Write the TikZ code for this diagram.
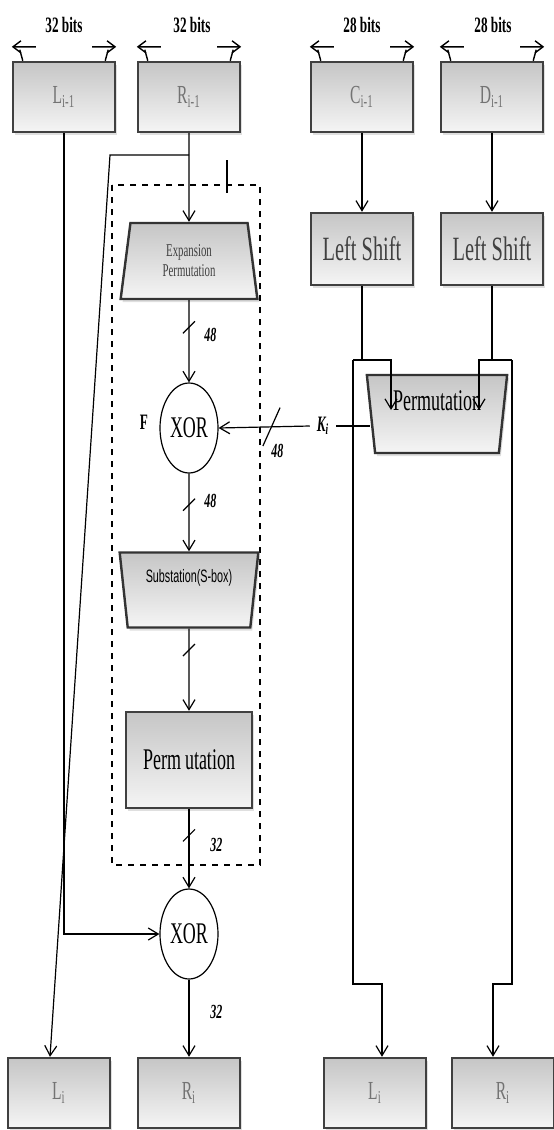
\documentclass[tikz,border=0pt]{standalone}
\usepackage{fontspec}
\setmainfont{Liberation Serif}[FakeStretch=0.6]
\setsansfont{Liberation Sans}[FakeStretch=0.6]
\usetikzlibrary{shapes.geometric,arrows.meta,positioning,calc,shadows,decorations.markings}
\tikzset{
  % Register / block box: shaded grey, dark border
  regbox/.style={draw=black!75, rectangle, line width=1.2pt, minimum width=51pt, minimum height=35pt,
                 top color=gray!45, bottom color=gray!8, inner sep=1pt,
                 drop shadow={opacity=0.25, shadow xshift=1pt, shadow yshift=-1.5pt},
                 font=\fontsize{13}{14}\selectfont, text=black!55},
  shiftbox/.style={regbox, minimum height=36pt, font=\fontsize{17}{18}\selectfont, text=black!75},
  permbox/.style={regbox, minimum width=63pt, minimum height=48pt, font=\fontsize{15}{16}\selectfont, text=black},
  % Trapezoid blocks
  trapbox/.style={trapezium, trapezium stretches=true, draw=black!80, line width=1.2pt, inner sep=1pt,
                  top color=gray!45, bottom color=gray!8,
                  drop shadow={opacity=0.25, shadow xshift=1pt, shadow yshift=-1.5pt}},
  xorgate/.style={ellipse, draw, line width=0.6pt, fill=white, minimum width=29pt, minimum height=45pt,
                  inner sep=0pt, font=\fontsize{15}{16}\selectfont},
  % Labels
  bitlbl/.style={font=\bfseries\fontsize{11}{12}\selectfont},
  buslbl/.style={font=\bfseries\itshape\fontsize{10}{11}\selectfont},
  % Arrows
  flowarr/.style={-{Straight Barb[length=5pt,width=6pt]}, line width=0.6pt},
  plainline/.style={line width=0.6pt},
  widtharr/.style={-{Straight Barb[length=4pt,width=6pt]}, line width=0.7pt},
  busmark/.style={postaction={decorate}, decoration={markings,
                  mark=at position #1 with {\draw[-, line width=0.6pt] (-3pt,3pt) -- (3pt,-3pt);}}},
  keymark/.style={postaction={decorate}, decoration={markings,
                  mark=at position #1 with {\draw[-, line width=0.6pt] (-4.5pt,-9.5pt) -- (4.5pt,9.5pt);}}},
  % Round function enclosure
  fbox/.style={draw, dashed, line width=0.8pt}
}

\begin{document}
\begin{tikzpicture}[x=0.5pt, y=-0.5pt]
\useasboundingbox (0,0) rectangle (553,1130);

% ============== Round function F enclosure ==============
\draw[fbox] (112,185) rectangle (260,865);
\draw[line width=1.2pt] (227,160) -- (227,193);
\node[font=\bfseries\fontsize{11}{12}\selectfont] (flabel) at (144,422) {F};

% ============== Top: data halves and key halves ==============
\node[regbox] (Lprev) at (64,97) {L\textsubscript{i-1}};
\node[regbox] (Rprev) at (189,97) {R\textsubscript{i-1}};
\node[regbox] (Cprev) at (362,97) {C\textsubscript{i-1}};
\node[regbox] (Dprev) at (492,97) {D\textsubscript{i-1}};

\node[bitlbl] (Lbits) at (64,25) {32 bits};
\node[bitlbl] (Rbits) at (192,25) {32 bits};
\node[bitlbl] (Cbits) at (362,25) {28 bits};
\node[bitlbl] (Dbits) at (493,25) {28 bits};

% width arrows over each register
\draw[widtharr] ($(Lprev.north west)+(8,-11)$) -- ($(Lprev.north west)+(11,0)$) ($(Lprev.north west)+(24,-14)$) -- ($(Lprev.north west)+(0,-14)$);
\draw[widtharr] ($(Lprev.north east)+(-8,-11)$) -- ($(Lprev.north east)+(-11,0)$) ($(Lprev.north east)+(-24,-14)$) -- ($(Lprev.north east)+(0,-14)$);
\draw[widtharr] ($(Rprev.north west)+(8,-11)$) -- ($(Rprev.north west)+(11,0)$) ($(Rprev.north west)+(24,-14)$) -- ($(Rprev.north west)+(0,-14)$);
\draw[widtharr] ($(Rprev.north east)+(-8,-11)$) -- ($(Rprev.north east)+(-11,0)$) ($(Rprev.north east)+(-24,-14)$) -- ($(Rprev.north east)+(0,-14)$);
\draw[widtharr] ($(Cprev.north west)+(8,-11)$) -- ($(Cprev.north west)+(11,0)$) ($(Cprev.north west)+(24,-14)$) -- ($(Cprev.north west)+(0,-14)$);
\draw[widtharr] ($(Cprev.north east)+(-8,-11)$) -- ($(Cprev.north east)+(-11,0)$) ($(Cprev.north east)+(-24,-14)$) -- ($(Cprev.north east)+(0,-14)$);
\draw[widtharr] ($(Dprev.north west)+(8,-11)$) -- ($(Dprev.north west)+(11,0)$) ($(Dprev.north west)+(24,-14)$) -- ($(Dprev.north west)+(0,-14)$);
\draw[widtharr] ($(Dprev.north east)+(-8,-11)$) -- ($(Dprev.north east)+(-11,0)$) ($(Dprev.north east)+(-24,-14)$) -- ($(Dprev.north east)+(0,-14)$);

% ============== Key schedule: shifts and permutation ==============
\node[shiftbox] (Cshift) at (362,249) {Left Shift};
\node[shiftbox] (Dshift) at (492,249) {Left Shift};
\draw[flowarr] (Cprev.south) -- (Cshift.north);
\draw[flowarr] (Dprev.south) -- (Dshift.north);

\node[trapbox, trapezium left angle=97, trapezium right angle=97, minimum width=70.5pt, minimum height=39pt,
      font=\fontsize{15}{16}\selectfont, text depth=13pt] (keyperm) at (437,414) {Permutation};
\node[font=\bfseries\itshape\fontsize{11}{12}\selectfont] (Ki) at (323,426) {K\textsubscript{i}};

\coordinate (Cleft) at (353,360);
\coordinate (Cright) at (391,360);
\coordinate (Cturn) at (382,984);
\coordinate (Dleft) at (479,360);
\coordinate (Dright) at (512,360);
\coordinate (Dturn) at (493,984);

\draw[plainline] (Cshift.south) -- (Cshift.south |- Cleft);
\draw[flowarr] (Cleft) -- (Cright) -- ++(0,50);
\draw[plainline] (Dshift.south) -- (Dshift.south |- Dleft);
\draw[flowarr] (Dright) -- (Dleft) -- ++(0,50);
\draw[plainline] (Ki.east) -- (keyperm.west |- Ki.east);

% ============== Round function F ==============
\node[trapbox, trapezium left angle=82.5, trapezium right angle=82.5, minimum width=68.5pt, minimum height=38pt,
      align=center, font=\fontsize{9}{10}\selectfont, text=black!75] (expand) at (189,261) {Expansion\\Permutation};
\node[xorgate] (xor1) at (189,428) {XOR};
\node[trapbox, trapezium left angle=97.5, trapezium right angle=97.5, minimum width=69.5pt, minimum height=37.5pt,
      font=\sffamily\fontsize{9}{10}\selectfont, text depth=14pt] (sbox) at (189,590) {Substation(S-box)};
\node[permbox] (pbox) at (189,760) {Perm\kern2pt utation};
\node[xorgate] (xor2) at (189,934) {XOR};

\draw[flowarr] (Rprev.south) -- (expand.north);
\draw[flowarr, busmark=0.33] (expand.south) -- node[buslbl, pos=0.42, right=4pt] {48} (xor1.north);
\draw[flowarr, keymark=0.42] (Ki.west) -- node[buslbl, pos=0.42, anchor=north, xshift=3pt, yshift=-5pt] {48} (xor1.east);
\draw[flowarr, busmark=0.4] (xor1.south) -- node[buslbl, pos=0.35, right=4pt] {48} (sbox.north);
\draw[flowarr, busmark=0.26] (sbox.south) -- (pbox.north);
\draw[flowarr, busmark=0.33] (pbox.south) -- node[buslbl, pos=0.45, right=7pt] {32} (xor2.north);

% ============== Outputs ==============
\node[regbox] (Lout) at (59,1093) {L\textsubscript{i}};
\node[regbox] (Rout) at (189,1093) {R\textsubscript{i}};
\node[regbox] (Cout) at (375,1093) {L\textsubscript{i}};
\node[regbox] (Dout) at (503,1093) {R\textsubscript{i}};

\draw[flowarr] (xor2.south) -- node[buslbl, pos=0.42, right=7pt] {32} (Rout.north);
\draw[flowarr] (Lprev.south) |- (xor2.west);
\coordinate (Rbend) at (110,155);
\draw[flowarr] (Rprev.south |- Rbend) -- (Rbend) -- ($(Lout.north)+(-9,0)$);
\draw[flowarr] (Cleft) -- (Cleft |- Cturn) -- (Cturn) -- (Cturn |- Cout.north);
\draw[flowarr] (Dright) -- (Dright |- Dturn) -- (Dturn) -- (Dturn |- Dout.north);

\end{tikzpicture}
\end{document}
